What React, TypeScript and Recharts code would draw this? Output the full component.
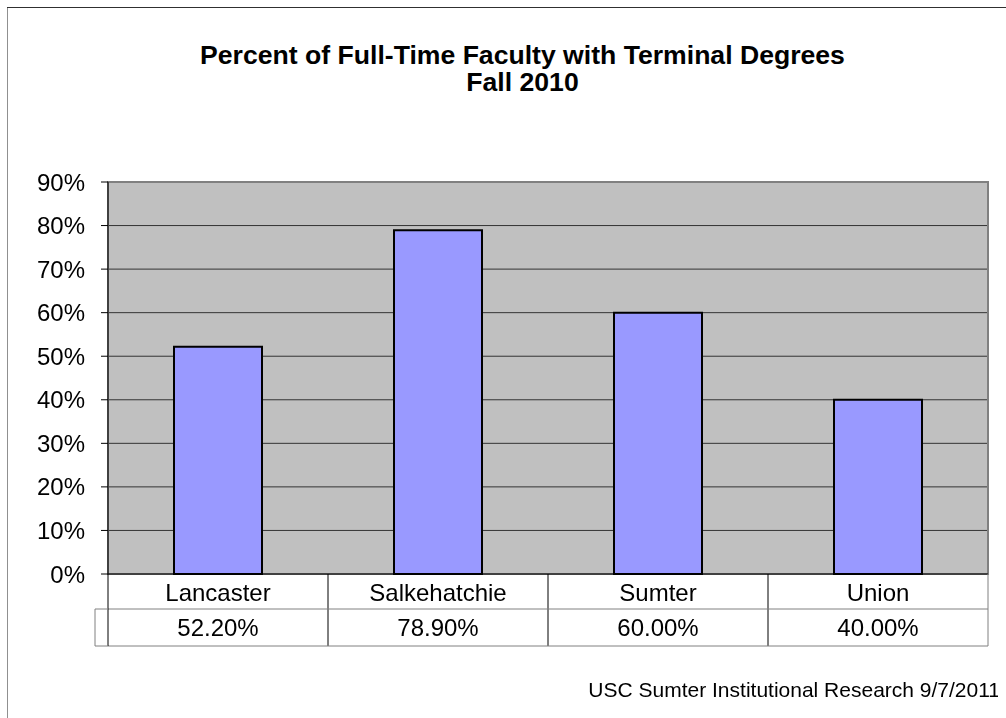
import { Bar, BarChart, CartesianGrid, ReferenceArea, XAxis, YAxis } from "recharts";

const campuses = ["Lancaster", "Salkehatchie", "Sumter", "Union"];
const percentTerminal = [52.2, 78.9, 60.0, 40.0];
const yTicks = [0, 10, 20, 30, 40, 50, 60, 70, 80, 90];
const titleLines = ["Percent of Full-Time Faculty with Terminal Degrees", "Fall 2010"];

const rows = campuses.map((campus, i) => ({ campus, pct: percentTerminal[i] }));

const FONT = "'Liberation Sans', Arial, sans-serif";
const ROW1 = 35;
const ROW2 = 37;

function TableTick(props: any) {
  const { x, y, payload, index } = props;
  const half = payload.offset ?? 110;
  const left = x - half;
  const right = x + half;
  const last = index === campuses.length - 1;
  const val = percentTerminal[campuses.indexOf(payload.value)];
  return (
    <g>
      <line x1={right} y1={y} x2={right} y2={y + ROW1 + ROW2} stroke={last ? "#808080" : "#000"} />
      <line x1={left} y1={y + ROW1} x2={right} y2={y + ROW1} stroke="#808080" />
      <line x1={left} y1={y + ROW1 + ROW2} x2={right} y2={y + ROW1 + ROW2} stroke="#808080" />
      {index === 0 && (
        <g>
          <line x1={left} y1={y} x2={left} y2={y + ROW1 + ROW2} stroke="#000" />
          <polyline
            points={`${left},${y + ROW1} ${left - 13},${y + ROW1} ${left - 13},${y + ROW1 + ROW2} ${left},${y + ROW1 + ROW2}`}
            fill="none"
            stroke="#808080"
          />
        </g>
      )}
      <text x={x} y={y + ROW1 / 2 + 1} textAnchor="middle" dominantBaseline="central" fontSize={24} fill="#000" fontFamily={FONT}>
        {payload.value}
      </text>
      <text x={x} y={y + ROW1 + ROW2 / 2} textAnchor="middle" dominantBaseline="central" fontSize={24} fill="#000" fontFamily={FONT}>
        {val.toFixed(2)}%
      </text>
    </g>
  );
}

export default function App() {
  return (
    <div
      style={{
        position: "relative",
        width: 998,
        height: 710,
        fontFamily: FONT,
        background: "#fff",
      }}
    >
      <div style={{ position: "fixed", left: 7, top: 7, width: 1, height: 720, background: "#909090" }} />
      <div style={{ position: "fixed", left: 7, top: 7, width: 1010, height: 1, background: "#303030" }} />
      {titleLines.map((line, i) => (
        <div
          key={line}
          style={{
            position: "absolute",
            left: 0,
            top: 35 + i * 27,
            width: 1029,
            height: 25,
            textAlign: "center",
            fontWeight: "bold",
            fontSize: 26.6,
            lineHeight: "25px",
            color: "#000",
            whiteSpace: "nowrap",
          }}
        >
          {line}
        </div>
      ))}
      <div style={{ position: "absolute", left: 0, top: 0 }}>
        <BarChart
          width={998}
          height={710}
          data={rows}
          margin={{ top: 174, right: 18, bottom: 72, left: 40 }}
          barCategoryGap="30%"
        >
          <CartesianGrid vertical={false} stroke="#333" fill="#C0C0C0" fillOpacity={1} />
          <ReferenceArea y1={0} y2={90} fill="none" stroke="#808080" strokeWidth={2} />
          <XAxis
            dataKey="campus"
            height={72}
            tickLine={false}
            tickSize={0}
            tickMargin={0}
            axisLine={{ stroke: "#000" }}
            tick={<TableTick />}
            interval={0}
          />
          <YAxis
            width={60}
            domain={[0, 90]}
            ticks={yTicks}
            tickFormatter={(v) => `${v}%`}
            tickSize={7}
            tickMargin={16}
            tickLine={{ stroke: "#000" }}
            axisLine={{ stroke: "#000" }}
            tick={{ fontSize: 24, fill: "#000", fontFamily: FONT }}
          />
          <Bar dataKey="pct" fill="#9999FF" stroke="#000" strokeWidth={2} isAnimationActive={false} />
        </BarChart>
      </div>
      <div
        style={{
          position: "absolute",
          right: 6,
          top: 671,
          fontSize: 21,
          lineHeight: "21px",
          color: "#000",
          whiteSpace: "nowrap",
        }}
      >
        USC Sumter Institutional Research 9/7/2011
      </div>
    </div>
  );
}
